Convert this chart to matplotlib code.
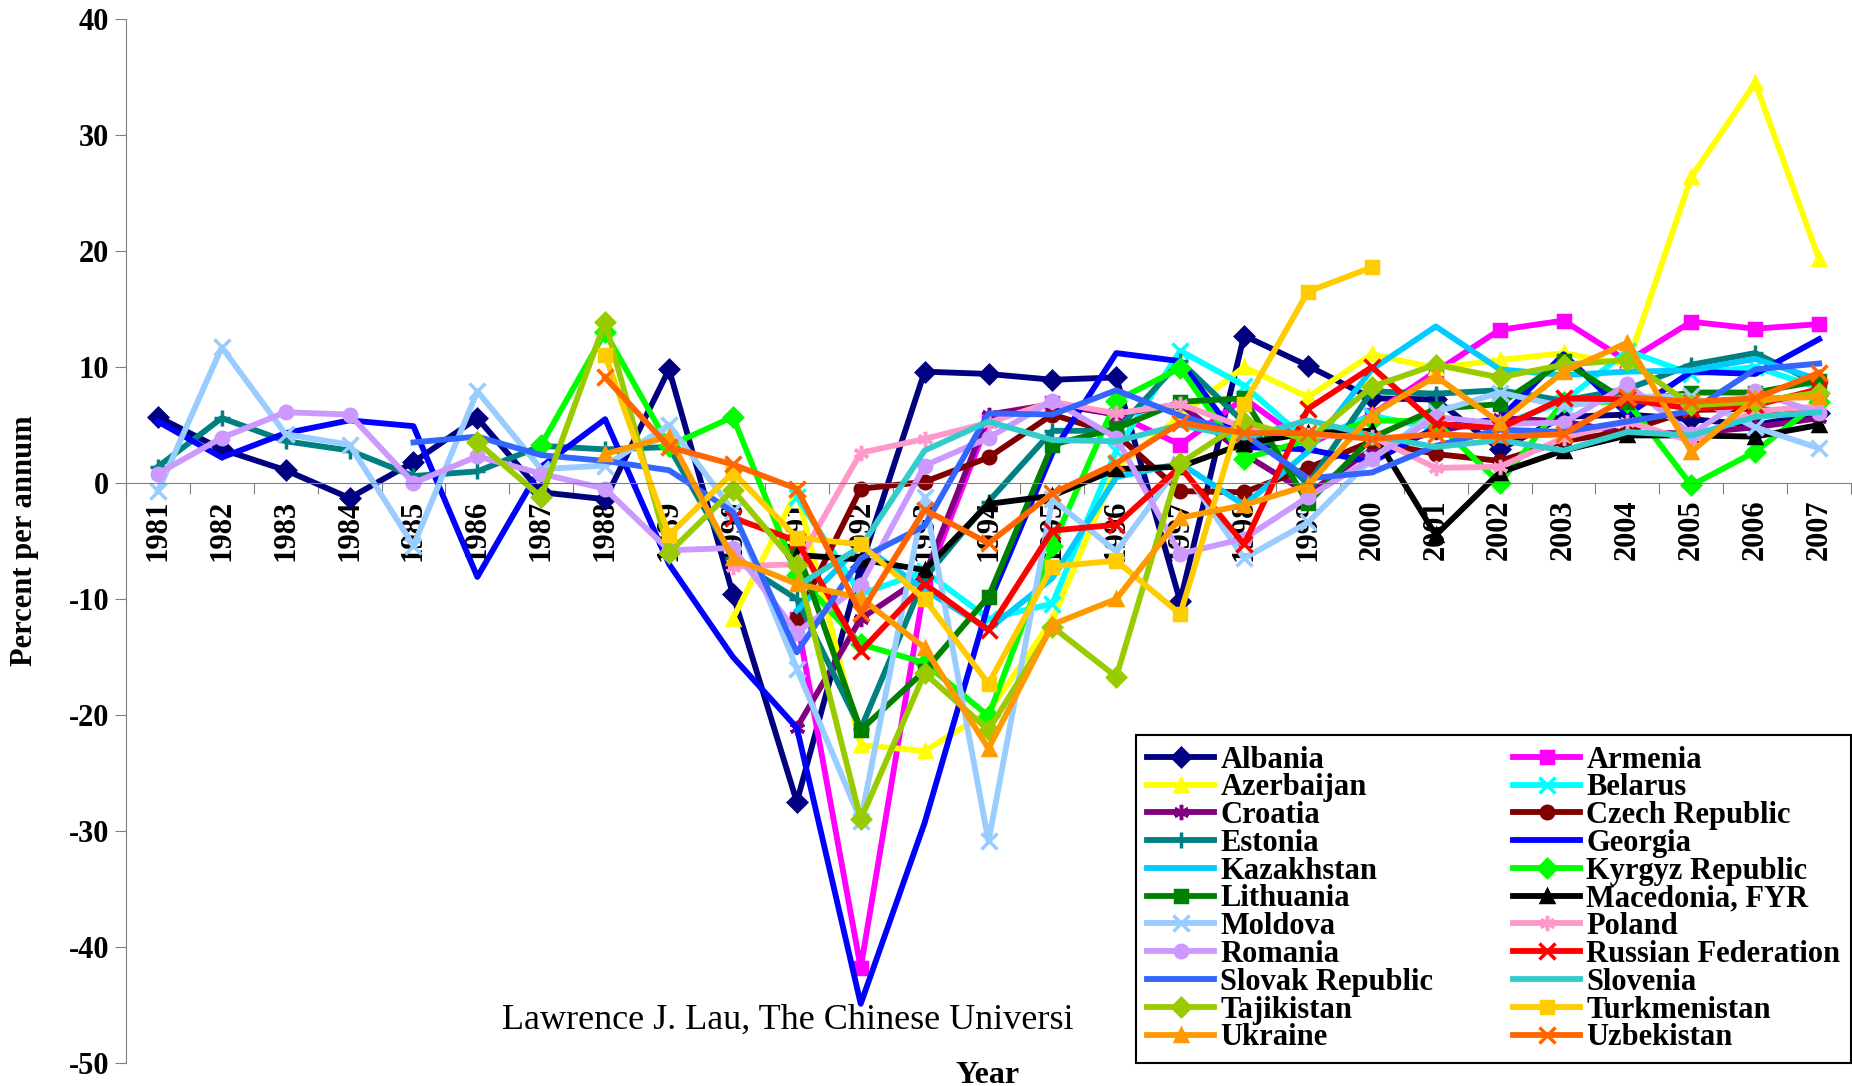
import numpy as np
import matplotlib
matplotlib.use('Agg')
import matplotlib.pyplot as plt

plt.rcParams['font.family'] = ['Liberation Serif', 'DejaVu Serif']
plt.rcParams['axes.unicode_minus'] = False

years = list(range(1981, 2008))
N = None

# GDP growth, percent per annum, 1981-2007 (None = no data)
albania = [5.7, 2.9, 1.1, -1.3, 1.8, 5.6, -0.8, -1.4, 9.8, -9.6, -27.5, -7.2, 9.6, 9.4, 8.9, 9.1, -10.2, 12.7, 10.1, 7.3, 7.2, 2.9, 5.7, 5.9, 5.5, 5.0, 6.0]
armenia = [N]*10 + [-11.7, -41.8, -8.8, 5.4, 6.9, 5.9, 3.3, 7.3, 3.3, 5.9, 9.6, 13.2, 14.0, 10.5, 13.9, 13.3, 13.7]
azerbaijan = [N]*9 + [-11.7, -0.7, -22.6, -23.1, -19.7, -11.8, 1.3, 5.8, 10.0, 7.4, 11.1, 9.9, 10.6, 11.2, 10.2, 26.4, 34.5, 19.3]
belarus = [N]*10 + [-1.2, -9.6, -7.6, -11.7, -10.4, 2.8, 11.4, 8.4, 3.6, 5.8, 4.7, 5.0, 7.0, 11.4, 9.4, 10.0, 8.2]
croatia = [N]*10 + [-21.1, -11.7, -8.0, 5.9, 6.8, 5.9, 6.8, 2.5, -0.9, 2.9, 4.4, 5.6, 5.3, 4.3, 4.3, 4.8, 5.6]
czech = [N]*10 + [-11.6, -0.5, 0.1, 2.2, 5.9, 4.2, -0.7, -0.8, 1.3, 3.6, 2.5, 1.9, 3.6, 4.5, 6.3, 6.4, 6.0]
estonia = [1.4, 5.6, 3.6, 2.8, 0.6, 1.0, 3.2, 2.9, 3.1, -6.5, -10.0, -21.2, -8.2, -1.6, 4.5, 4.5, 10.5, 5.2, -0.1, 7.9, 7.7, 8.0, 7.1, 8.1, 10.2, 11.2, 8.5]
georgia = [5.3, 2.2, 4.3, 5.4, 4.9, -8.1, 1.4, 5.5, -7.0, -15.0, -21.1, -44.9, -29.3, -10.4, 2.6, 11.2, 10.5, 3.1, 2.9, 1.8, 4.8, 5.5, 11.1, 5.9, 9.6, 9.4, 12.4]
kazakhstan = [N]*10 + [-11.0, -5.3, -9.2, -12.6, -8.2, 0.5, 1.7, -1.9, 2.7, 9.8, 13.5, 9.8, 9.3, 9.6, 9.7, 10.7, 8.9]
kyrgyz = [N]*6 + [3.3, 13.0, 3.2, 5.7, -7.9, -13.9, -15.5, -20.1, -5.4, 7.1, 9.9, 2.1, 3.7, 5.4, 5.3, 0.0, 7.0, 7.0, -0.2, 2.7, 7.0]
lithuania = [N]*10 + [-5.7, -21.3, -16.2, -9.8, 3.3, 4.7, 7.0, 7.3, -1.7, 3.9, 6.4, 6.8, 10.5, 7.0, 7.8, 7.8, 8.8]
macedonia = [N]*10 + [-6.2, -6.6, -7.5, -1.8, -1.1, 1.2, 1.4, 3.4, 4.3, 4.5, -4.5, 0.9, 2.8, 4.1, 4.1, 4.0, 5.0]
moldova = [-0.7, 11.7, 4.2, 3.3, -5.4, 7.9, 1.2, 1.5, 5.0, -2.4, -16.0, -29.1, -1.2, -30.9, -1.4, -5.9, 1.6, -6.5, -3.4, 2.1, 6.1, 7.8, 6.6, 7.4, 7.5, 4.8, 3.0]
poland = [N]*9 + [-7.2, -7.0, 2.6, 3.8, 5.2, 7.0, 6.0, 6.8, 4.8, 4.1, 4.0, 1.3, 1.4, 3.9, 5.3, 3.6, 6.2, 6.6]
romania = [0.8, 3.9, 6.1, 5.9, 0.0, 2.3, 0.8, -0.5, -5.8, -5.6, -12.9, -8.8, 1.5, 3.9, 7.1, 3.9, -6.1, -4.8, -1.2, 2.1, 5.7, 5.1, 5.2, 8.5, 4.2, 7.9, 6.0]
russia = [N]*9 + [-3.0, -5.0, -14.5, -8.7, -12.7, -4.1, -3.6, 1.4, -5.3, 6.4, 10.0, 5.1, 4.7, 7.3, 7.2, 6.4, 6.7, 8.1]
slovakia = [N]*4 + [3.5, 4.0, 2.4, 1.9, 1.1, -2.5, -14.6, -6.5, -3.7, 6.0, 5.9, 8.0, 5.8, 4.2, 0.4, 0.9, 3.2, 4.6, 4.4, 5.3, 6.2, 9.8, 10.3]
slovenia = [N]*10 + [-8.9, -5.5, 2.8, 5.3, 3.7, 3.6, 5.0, 3.9, 5.4, 4.1, 3.1, 3.7, 2.8, 4.4, 4.1, 5.7, 6.1]
tajikistan = [N]*5 + [3.5, -1.2, 13.9, -6.0, -0.6, -7.1, -29.0, -16.4, -21.3, -12.4, -16.7, 1.7, 5.3, 3.7, 8.3, 10.2, 9.1, 10.2, 10.6, 6.7, 7.0, 7.8]
turkmenistan = [N]*7 + [11.0, -4.5, 0.9, -4.7, -5.3, -10.0, -17.3, -7.2, -6.7, -11.3, 6.8, 16.5, 18.6] + [N]*7
ukraine = [N]*7 + [2.5, 4.0, -6.5, -8.7, -9.9, -14.2, -22.9, -12.2, -10.0, -3.0, -1.9, -0.2, 5.9, 9.2, 5.2, 9.6, 12.1, 2.7, 7.3, 7.4]
uzbekistan = [N]*7 + [9.1, 3.1, 1.6, -0.5, -11.2, -2.3, -5.2, -0.9, 1.7, 5.2, 4.3, 4.3, 3.8, 4.2, 4.0, 4.2, 7.4, 7.0, 7.3, 9.5]

asterisk = (6, 2, 0)
series = [
    ('Albania', albania, '#000080', 'D'),
    ('Armenia', armenia, '#FF00FF', 's'),
    ('Azerbaijan', azerbaijan, '#FFFF00', '^'),
    ('Belarus', belarus, '#00FFFF', 'x'),
    ('Croatia', croatia, '#800080', asterisk),
    ('Czech Republic', czech, '#800000', 'o'),
    ('Estonia', estonia, '#008080', '+'),
    ('Georgia', georgia, '#0000FF', 'none'),
    ('Kazakhstan', kazakhstan, '#00CCFF', 'none'),
    ('Kyrgyz Republic', kyrgyz, '#00FF00', 'D'),
    ('Lithuania', lithuania, '#008000', 's'),
    ('Macedonia, FYR', macedonia, '#000000', '^'),
    ('Moldova', moldova, '#99CCFF', 'x'),
    ('Poland', poland, '#FF99CC', asterisk),
    ('Romania', romania, '#CC99FF', 'o'),
    ('Russian Federation', russia, '#FF0000', 'x'),
    ('Slovak Republic', slovakia, '#3366FF', 'none'),
    ('Slovenia', slovenia, '#33CCCC', 'none'),
    ('Tajikistan', tajikistan, '#99CC00', 'D'),
    ('Turkmenistan', turkmenistan, '#FFCC00', 's'),
    ('Ukraine', ukraine, '#FF9900', '^'),
    ('Uzbekistan', uzbekistan, '#FF6600', 'x'),
]

fig = plt.figure(figsize=(18.52, 10.86), dpi=100)
ax = fig.add_axes([0.068, 0.0212, 0.9315, 0.9613])
ax.patch.set_visible(False)

for name, vals, color, marker in series:
    y = np.array([np.nan if v is None else v for v in vals], dtype=float)
    ms = 11 if marker in ('x', '+', asterisk) else 9
    ax.plot(years, y, color=color, lw=4.2, marker=marker, ms=ms,
            mfc=color, mec=color, mew=2.5, label=name)

ax.set_xlim(1980.5, 2007.5)
ax.set_ylim(-50, 40)

for s in ['top', 'right']:
    ax.spines[s].set_visible(False)
ax.spines['left'].set_color('#808080')
ax.spines['bottom'].set_color('#808080')
ax.spines['bottom'].set_position(('data', 0))

ax.set_yticks(range(-50, 41, 10))
ax.tick_params(axis='y', length=8, color='#808080', labelsize=22, pad=4)
for t in ax.get_yticklabels():
    t.set_fontweight('bold')

ax.set_xticks(np.arange(1980.5, 2008, 1))
ax.set_xticklabels([])
ax.set_xticks(years, minor=True)
ax.set_xticklabels([str(y) for y in years], minor=True, rotation=90,
                   fontsize=22, fontweight='bold')
ax.tick_params(axis='x', which='major', length=8, color='#808080')
ax.tick_params(axis='x', which='minor', length=0, pad=12)

fig.text(0.013, 0.502, 'Percent per annum', rotation=90, ha='center', va='center',
         fontsize=22, fontweight='bold')
fig.text(0.533, 0.010, 'Year', ha='center', va='center', fontsize=23, fontweight='bold')
# footer: only the part left visible beside the legend box
fig.text(0.271, 0.061, 'Lawrence J. Lau, The Chinese Universi',
         ha='left', va='center', fontsize=26, zorder=-1)

h, l = ax.get_legend_handles_labels()
order = list(range(0, 22, 2)) + list(range(1, 22, 2))
leg = ax.legend([h[i] for i in order], [l[i] for i in order], ncol=2,
                loc='lower right', bbox_to_anchor=(1.0, 0.0),
                prop={'weight': 'bold', 'size': 22}, fancybox=False,
                facecolor='white', edgecolor='black', framealpha=1,
                borderpad=0.35, labelspacing=-0.04, handlelength=2.2,
                handletextpad=0.2, columnspacing=2.6, borderaxespad=0,
                numpoints=1)
leg.get_frame().set_linewidth(1.5)
leg.set_zorder(10)

fig.savefig('out.png', dpi=100, facecolor='white')
